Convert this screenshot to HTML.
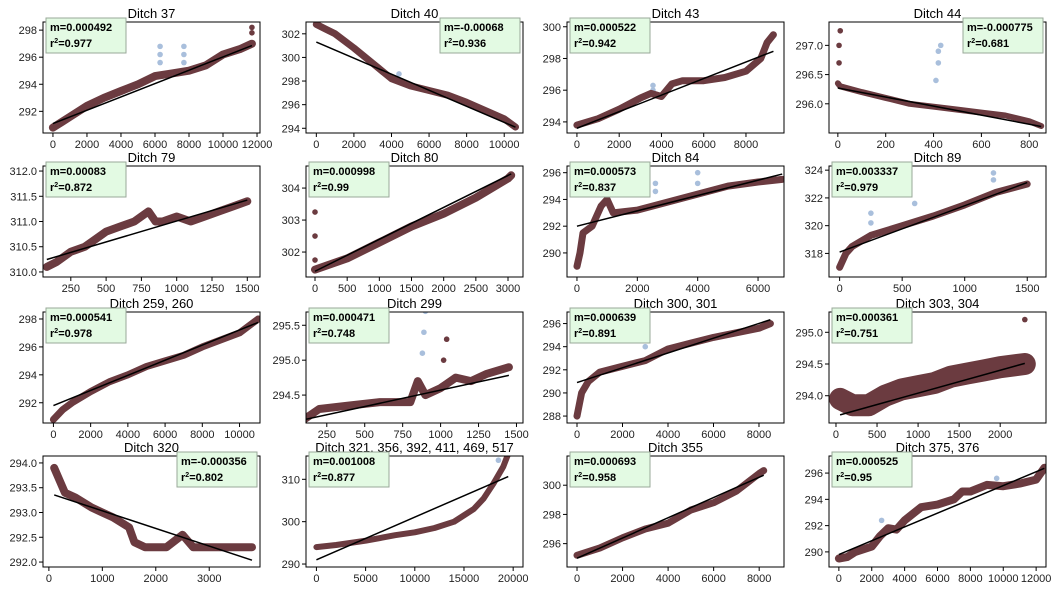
<!DOCTYPE html>
<html><head><meta charset="utf-8"><style>
body{margin:0;background:#fff;}
svg text{font-family:"Liberation Sans","DejaVu Sans",sans-serif;}
</style></head><body>
<svg id="fig" width="1054" height="590" viewBox="0 0 1054 590" xmlns="http://www.w3.org/2000/svg"></svg>
<script>
const titles=["Ditch 37","Ditch 40","Ditch 43","Ditch 44","Ditch 79","Ditch 80","Ditch 84","Ditch 89","Ditch 259, 260","Ditch 299","Ditch 300, 301","Ditch 303, 304","Ditch 320","Ditch 321, 356, 392, 411, 469, 517","Ditch 355","Ditch 375, 376"];
const slopeLabels=["m=0.000492","m=-0.00068","m=0.000522","m=-0.000775","m=0.00083","m=0.000998","m=0.000573","m=0.003337","m=0.000541","m=0.000471","m=0.000639","m=0.000361","m=-0.000356","m=0.001008","m=0.000693","m=0.000525"];
const r2Labels=["0.977","0.936","0.942","0.681","0.872","0.99","0.837","0.979","0.978","0.748","0.891","0.751","0.802","0.877","0.958","0.95"];
const slopes=[0.000492,-0.00068,0.000522,-0.000775,0.00083,0.000998,0.000573,0.003337,0.000541,0.000471,0.000639,0.000361,-0.000356,0.001008,0.000693,0.000525];
const intercepts=[291.1,301.3,293.6,296.27,310.18,301.4,292.0,318.1,291.8,294.1,290.9,293.68,293.39,291,295,289.8];
const boxRight=[0,1,0,1,0,0,0,0,0,0,0,0,1,0,0,0];
const xLims=[[-585,12175],[-550,11000],[-470,9800],[-37,870],[53,1590],[-140,3233],[-330,6860],[-85,1650],[-560,11100],[113,1543],[-440,9100],[-85,2558],[-110,3950],[-1060,21000],[-440,9090],[-600,12600]];
const yLims=[[290.4,298.6],[293.6,303],[293.3,300.3],[295.5,297.4],[309.9,312.1],[301.22,304.69],[288.2,296.5],[316.3,324.3],[290.55,298.5],[294.1,295.69],[287.4,297],[293.57,295.32],[291.9,294.14],[289.3,315.5],[294.4,302],[288.85,297.3]];
const xTicks=[[0,2000,4000,6000,8000,10000,12000],[0,2000,4000,6000,8000,10000],[0,2000,4000,6000,8000],[0,200,400,600,800],[250,500,750,1000,1250,1500],[0,500,1000,1500,2000,2500,3000],[0,2000,4000,6000],[0,500,1000,1500],[0,2000,4000,6000,8000,10000],[250,500,750,1000,1250,1500],[0,2000,4000,6000,8000],[0,500,1000,1500,2000],[0,1000,2000,3000],[0,5000,10000,15000,20000],[0,2000,4000,6000,8000],[0,2000,4000,6000,8000,10000,12000]];
const yTicks=[[292,294,296,298],[294,296,298,300,302],[294,296,298,300],[296.0,296.5,297.0],[310.0,310.5,311.0,311.5,312.0],[302,303,304],[290,292,294,296],[318,320,322,324],[292,294,296,298],[294.5,295.0,295.5],[288,290,292,294,296],[294.0,294.5,295.0],[292.0,292.5,293.0,293.5,294.0],[290,300,310],[296,298,300],[290,292,294,296]];
const yDec=[0,0,0,1,1,0,0,0,0,1,0,1,1,0,0,0];
const dataX=[
[0,500,1000,2000,3000,4000,5000,6000,7000,8000,9000,10000,11000,11700],
[0,500,1000,2000,3000,4000,5000,6000,7000,8000,9000,10000,10600],
[0,1000,2000,3000,3500,4000,4500,5000,6000,7000,8000,8700,9000,9300],
[0,10,100,200,300,400,500,600,700,800,850],
[80,150,250,350,400,500,600,700,800,850,900,1000,1100,1200,1300,1400,1500],
[0,500,1000,1500,2000,2500,3000,3050],
[0,100,200,500,800,1000,1200,2000,3000,4000,5000,6000,6800],
[0,50,100,250,500,750,1000,1250,1500],
[0,500,1000,2000,3000,4000,5000,6000,7000,8000,9000,10000,11000],
[100,200,400,600,800,850,900,1000,1100,1200,1300,1450],
[0,100,200,500,1000,2000,3000,4000,5000,6000,7000,8000,8500],
[50,200,400,600,800,1000,1200,1400,1600,1800,2000,2300],
[100,300,500,800,1000,1200,1500,1600,1800,2000,2200,2500,2700,3000,3500,3800],
[0,2000,5000,8000,10000,12000,14000,15000,16000,17000,18000,19000,19500],
[0,1000,2000,3000,4000,5000,6000,7000,7500,8000,8200],
[0,500,1000,2000,2500,3000,3500,4000,5000,6000,7000,7500,8000,9000,10000,11000,12000,12500]];
const dataY=[
[290.8,291.2,291.6,292.4,293,293.5,294,294.6,294.8,295,295.4,296.2,296.6,297],
[302.8,302.4,302,300.8,299.5,298.2,297.6,297.2,296.8,296.2,295.5,294.8,294.1],
[293.8,294.2,294.8,295.5,295.8,295.6,296.4,296.6,296.6,296.8,297.2,298,299,299.5],
[296.35,296.3,296.2,296.1,296,295.95,295.9,295.85,295.8,295.7,295.62],
[310.1,310.2,310.4,310.5,310.6,310.8,310.9,311.0,311.2,311.0,311.0,311.1,311.0,311.1,311.2,311.3,311.4],
[301.45,301.8,302.3,302.8,303.2,303.7,304.3,304.4],
[289,290,291.5,292,293.5,294,293,293.2,293.8,294.4,295,295.3,295.5],
[317,318,318.5,319.3,320,320.7,321.5,322.4,323],
[290.8,291.5,292,292.8,293.5,294,294.6,295,295.4,296,296.5,297,298],
[294.15,294.3,294.35,294.4,294.4,294.7,294.5,294.6,294.75,294.7,294.8,294.9],
[288,289,290,291,291.8,292.3,292.8,293.8,294.3,294.8,295.2,295.6,296],
[293.95,293.85,293.85,294.0,294.1,294.15,294.2,294.3,294.35,294.4,294.45,294.5],
[293.9,293.4,293.3,293.1,293,292.9,292.7,292.4,292.3,292.3,292.3,292.55,292.3,292.3,292.3,292.3],
[294,294.5,295.5,296.8,297.5,298.5,300,301.5,303,305.5,309,313,316],
[295.2,295.7,296.4,297,297.4,298.3,298.8,299.6,300.2,300.8,301],
[289.5,289.6,290,290.4,291.2,291.8,291.7,292.4,293.4,293.6,294,294.6,294.6,295.1,295,295.2,295.5,296.4]];
const bandW=[8,7,7,6,8,8,7,7,7,8,7,22,8,6,7,8];
const outX=[[6300,6300,6300,7700,7700,7700],[4400],[3600,3600],[410,420,430,420],[340,350],[],[1100,2600,2600,4000,4000],[250,250,600,1230,1230],[],[880,890,900,900],[3000],[],[],[18500,18700],[],[2600,9600]];
const outY=[[295.6,296.2,296.8,295.6,296.2,296.8],[298.6],[296,296.3],[296.4,296.7,297.0,296.9],[311.6,312.0],[],[294.8,294.6,295.2,295.2,296],[320.2,320.9,321.6,323.3,323.8],[],[295.1,295.4,295.7,295.8],[294],[],[],[314.5,316],[],[292.4,295.6]];
const extraX=[[11700,11700],[],[],[5,5,10],[],[0,0,0],[],[],[],[1020,1040],[],[2300],[],[],[],[]];
const extraY=[[297.8,298.2],[],[],[296.7,297.0,297.25],[],[303.25,302.5,301.75],[],[],[],[295.0,295.3],[],[295.2],[],[],[],[]];
const NS="http://www.w3.org/2000/svg";
const svg=document.getElementById('fig');
function mk(tag,attrs,parent){const e=document.createElementNS(NS,tag);for(const k in attrs)e.setAttribute(k,attrs[k]);(parent||svg).appendChild(e);return e;}
const colL=[43,306,567,829], rowT=[22,166,312,456], W=217, H=111;
for(let i=0;i<16;i++){
  const L=colL[i%4], T=rowT[Math.floor(i/4)];
  const g=mk('g',{});
  
  
  const xl=xLims[i], yl=yLims[i];
  const sx=v=>L+(v-xl[0])/(xl[1]-xl[0])*W;
  const sy=v=>T+H-(v-yl[0])/(yl[1]-yl[0])*H;
  const cp=mk('clipPath',{id:'c'+i},g);mk('rect',{x:L,y:T,width:W,height:H},cp);
  const pg=mk('g',{'clip-path':'url(#c'+i+')'},g);
  for(let k=0;k<outX[i].length;k++){
    const c=mk('circle',{cx:sx(outX[i][k]),cy:sy(outY[i][k]),r:2.8,fill:'#a9bfdc'},pg);
    
    
  }
  const pts=dataX[i].map((x,k)=>sx(x).toFixed(1)+','+sy(dataY[i][k]).toFixed(1)).join(' ');
  const band=mk('polyline',{points:pts,fill:'none',stroke:'#6b3b40',"stroke-width":bandW[i],"stroke-linejoin":'round',"stroke-linecap":'round'},pg);
  
  
  for(let k=0;k<extraX[i].length;k++){
    const c=mk('circle',{cx:sx(extraX[i][k]),cy:sy(extraY[i][k]),r:2.8,fill:'#6b3b40'},pg);
    
    
  }
  const x0=dataX[i][0], x1=dataX[i][dataX[i].length-1];
  const fl=mk('line',{x1:sx(x0),y1:sy(intercepts[i]+slopes[i]*x0),x2:sx(x1),y2:sy(intercepts[i]+slopes[i]*x1),stroke:'#000','stroke-width':1.5},pg);
  
  
  mk('rect',{x:L,y:T,width:W,height:H,fill:'none',stroke:'#000','stroke-width':1},g);
  xTicks[i].forEach(v=>{const x=sx(v);if(x<L-1||x>L+W+1)return;
    mk('line',{x1:x,y1:T+H,x2:x,y2:T+H+4,stroke:'#000'},g);
    const t=mk('text',{x:x,y:T+H+15,'font-size':11,'text-anchor':'middle',fill:'#222'},g);t.textContent=v;
    
    });
  yTicks[i].forEach(v=>{const y=sy(v);if(y<T-1||y>T+H+1)return;
    mk('line',{x1:L-4,y1:y,x2:L,y2:y,stroke:'#000'},g);
    const t=mk('text',{x:L-6,y:y+4,'font-size':11,'text-anchor':'end',fill:'#222'},g);t.textContent=v.toFixed(yDec[i]);
    
    });
  const tt=mk('text',{x:L+W/2,y:T-4,'font-size':13,'text-anchor':'middle',fill:'#000'},g);tt.textContent=titles[i];
  
  
  const bx=boxRight[i]?L+W-83:L+3, by=T-4;
  const sb=mk('g',{},g);
  
  
  mk('rect',{x:bx,y:by,width:80,height:35,fill:'#e3fae3',stroke:'#9aa89a','stroke-width':1},sb);
  const t1=mk('text',{x:bx+4,y:by+13,'font-size':11,'font-weight':'bold',fill:'#000'},sb);t1.textContent=slopeLabels[i];
  const t2=mk('text',{x:bx+4,y:by+29,'font-size':11,'font-weight':'bold',fill:'#000'},sb);
  t2.innerHTML='r<tspan dy="-4" font-size="7">2</tspan><tspan dy="4">='+r2Labels[i]+'</tspan>';
}
</script>
</body></html>
